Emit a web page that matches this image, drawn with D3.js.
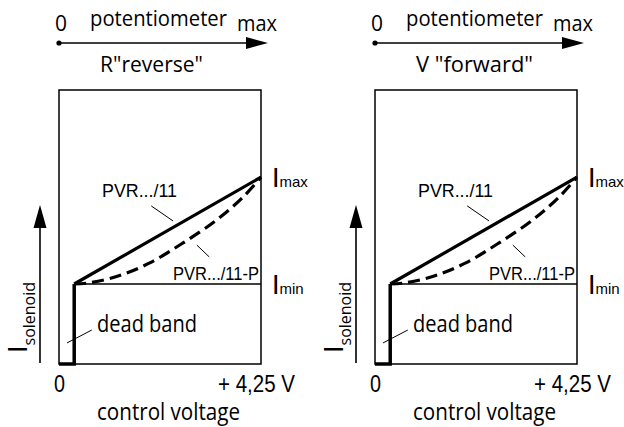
<!DOCTYPE html>
<meta charset="utf-8">
<script src="https://d3js.org/d3.v7.min.js"></script>
<style>body{margin:0;background:#fff}</style>
<div id="chart"></div>
<script>
// two panels: potentiometer direction
const modeLabels = ["R\"reverse\"", "V \"forward\""];
const modeLabelLen = [103, 117];
const panelShift = [0, 316];

// axis ranges: control voltage (V) and solenoid current (% of box height)
const voltRange = [0, 4.25];
const currentRange = [0, 100];
const xTickValues = [0, 4.25];
const xTickLabels = ["0", "+ 4,25 V"];
const xTickLen = [11, 77];

// characteristic
const deadBand = 0.32;
const iMin = 29.2, iMax = 68.2;
const linearVolts = [0.32, 4.25];
const linearCurrent = [29.2, 68.2];
const progVolts = [0.32, 0.58, 1.21, 1.91, 2.61, 3.32, 3.87, 4.25];
const progCurrent = [29.2, 29.5, 31.9, 36.9, 44.2, 52.6, 60.9, 68.2];

const humanist = "'Open Sans', 'DejaVu Sans', sans-serif";
const narrow = "'Liberation Sans Narrow', 'Liberation Sans', Arial, sans-serif";

const svg = d3.select("#chart").append("svg")
  .attr("width", 624).attr("height", 427)
  .style("background", "#fff");

function txt(g, s, x, y, font, size, len) {
  const t = g.append("text").attr("x", x).attr("y", y)
    .style("font-family", font).style("font-size", size + "px")
    .attr("fill", "#000").text(s);
  if (len) t.attr("textLength", len).attr("lengthAdjust", "spacingAndGlyphs");
  return t;
}

modeLabels.forEach((mode, i) => {
  const g = svg.append("g").attr("transform", `translate(${panelShift[i]},0)`);

  const x = d3.scaleLinear().domain(voltRange).range([59, 261]);
  const y = d3.scaleLinear().domain(currentRange).range([364, 90]);

  // potentiometer arrow on top
  g.append("line").attr("x1", x(0)).attr("x2", x(4.25) - 10)
    .attr("y1", 43).attr("y2", 43).attr("stroke", "#000").attr("stroke-width", 1.6);
  g.append("circle").attr("cx", x(0)).attr("cy", 43).attr("r", 2.6);
  g.append("path").attr("d", `M${x(4.25) + 7},43 L${x(4.25) - 15},37 L${x(4.25) - 15},49 Z`);
  txt(g, "0", 55, 31, humanist, 22, 12);
  txt(g, "potentiometer", 90, 26, humanist, 22, 137);
  txt(g, "max", 237, 31, humanist, 22, 40);
  txt(g, mode, 100, 72, humanist, 22, modeLabelLen[i]);

  // frame
  g.append("rect").attr("x", x(0)).attr("y", y(100))
    .attr("width", x(4.25) - x(0)).attr("height", y(0) - y(100))
    .attr("fill", "none").attr("stroke", "#000").attr("stroke-width", 1.5);

  // Imin level
  g.append("line").attr("x1", x(deadBand)).attr("x2", x(4.25))
    .attr("y1", y(iMin)).attr("y2", y(iMin))
    .attr("stroke", "#000").attr("stroke-width", 1.3);

  // dead band step
  g.append("path")
    .attr("d", d3.line()([[x(0), y(0)], [x(deadBand), y(0)], [x(deadBand), y(iMin)]]))
    .attr("fill", "none").attr("stroke", "#000").attr("stroke-width", 3.5)
    .attr("stroke-linejoin", "miter");

  const line = d3.line().x(d => x(d[0])).y(d => y(d[1])).curve(d3.curveCatmullRom);

  g.append("path").attr("d", line(d3.zip(linearVolts, linearCurrent)))
    .attr("fill", "none").attr("stroke", "#000").attr("stroke-width", 3.2);
  g.append("path").attr("d", line(d3.zip(progVolts, progCurrent)))
    .attr("fill", "none").attr("stroke", "#000").attr("stroke-width", 3.2)
    .attr("stroke-dasharray", "12,6");

  // labels with leaders
  txt(g, "PVR.../11", 102, 197, narrow, 19, 75);
  txt(g, "PVR.../11-P", 173, 280, narrow, 19, 86);
  txt(g, "dead band", 97, 332, humanist, 23, 100);
  const leaders = [[[1.94, 57.7], [2.40, 52.2]], [[2.90, 43.4], [3.16, 39.1]], [[0.17, 7.7], [0.69, 12.4]]];
  leaders.forEach(l => g.append("line")
    .attr("x1", x(l[0][0])).attr("y1", y(l[0][1]))
    .attr("x2", x(l[1][0])).attr("y2", y(l[1][1]))
    .attr("stroke", "#000").attr("stroke-width", 1));

  // Imax / Imin as one text with a smaller subscript
  [["max", iMax], ["min", iMin]].forEach(d => {
    const t = txt(g, "", x(4.25) + 11, y(d[1]) + 10, narrow, 27);
    t.append("tspan").text("I");
    t.append("tspan").style("font-size", "15px").text(d[0]);
  });

  // x axis tick labels
  const ax = g.append("g").attr("transform", `translate(0,${y(0)})`)
    .call(d3.axisBottom(x).tickValues(xTickValues).tickSize(0)
      .tickFormat((d, j) => xTickLabels[j]));
  ax.select(".domain").remove();
  ax.selectAll("text").attr("y", 28).attr("dy", 0)
    .style("font-family", narrow).style("font-size", "23px").attr("fill", "#000")
    .attr("textLength", (d, j) => xTickLen[j]).attr("lengthAdjust", "spacingAndGlyphs")
    .attr("dx", (d, j) => j === 1 ? -5 : 0);
  txt(g, "control voltage", 97, 420, humanist, 23, 143);

  // Isolenoid arrow
  g.append("line").attr("x1", 40).attr("x2", 40).attr("y1", y(0) - 1).attr("y2", 224)
    .attr("stroke", "#000").attr("stroke-width", 1.6);
  g.append("path").attr("d", "M40,205 L33.5,228 L46.5,228 Z");
  const yl = txt(g, "", 0, 0, narrow, 27).attr("transform", "translate(27,353) rotate(-90)");
  yl.append("tspan").text("I");
  yl.append("tspan").attr("dy", 8).style("font-family", humanist).style("font-size", "16px").text("solenoid");
});
</script>
